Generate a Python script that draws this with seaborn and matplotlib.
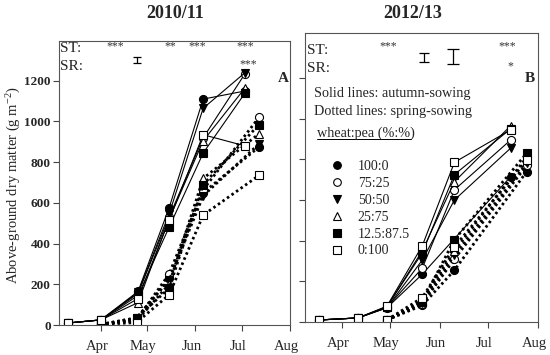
import matplotlib
matplotlib.use("Agg")
import matplotlib.pyplot as plt
import pandas as pd
import seaborn as sns
from matplotlib.lines import Line2D
from matplotlib.transforms import ScaledTranslation

W, H = 550, 355

MIXTURES = ["100:0", "75:25", "50:50", "25:75", "12.5:87.5", "0:100"]

# 2010/11 season
DATES_1011_AUTUMN = ["2011-03-11", "2011-04-01", "2011-04-25", "2011-05-15", "2011-06-06", "2011-07-03"]
DM_1011_AUTUMN = {
    "100:0": [10, 25, 165, 575, 1110, 1150],
    "75:25": [10, 25, 155, 530, 920, 1235],
    "50:50": [10, 25, 160, 545, 1065, 1240],
    "25:75": [10, 25, 110, 520, 905, 1165],
    "12.5:87.5": [10, 25, 145, 480, 845, 1140],
    "0:100": [10, 25, 130, 515, 935, 880],
}
DATES_1011_SPRING = ["2011-04-01", "2011-04-24", "2011-05-15", "2011-06-06", "2011-07-12"]
DM_1011_SPRING = {
    "100:0": [3, 30, 230, 650, 875],
    "75:25": [3, 25, 250, 665, 1020],
    "50:50": [3, 35, 220, 635, 890],
    "25:75": [3, 20, 200, 720, 940],
    "12.5:87.5": [3, 35, 180, 690, 985],
    "0:100": [3, 12, 148, 540, 735],
}

# 2012/13 season
DATES_1213_AUTUMN = ["2013-03-18", "2013-04-11", "2013-04-29", "2013-05-21", "2013-06-10", "2013-07-15"]
DM_1213_AUTUMN = {
    "100:0": [10, 20, 70, 235, None, 715],
    "75:25": [10, 20, 72, 265, 650, 895],
    "50:50": [10, 20, 70, 305, 600, 855],
    "25:75": [10, 20, 75, 350, 690, 965],
    "12.5:87.5": [10, 20, 75, 340, 725, 950],
    "0:100": [10, 20, 78, 375, 785, 945],
}
DATES_1213_SPRING = ["2013-04-29", "2013-05-21", "2013-06-10", "2013-07-25"]
DM_1213_SPRING = {
    "100:0": [10, 82, 255, 740],
    "75:25": [10, 90, 310, 770],
    "50:50": [10, 95, 330, 780],
    "25:75": [10, 105, 350, 810],
    "12.5:87.5": [10, 100, 405, 830],
    "0:100": [10, 120, 370, 795],
}

MONTH_LABELS = ["Apr", "May", "Jun", "Jul", "Aug"]
Y_TICKS = [0, 200, 400, 600, 800, 1000, 1200]

# marker shape / face colour per mixture
MARKER_STYLE = {
    "100:0": ("o", "black"),
    "75:25": ("o", "white"),
    "50:50": ("v", "black"),
    "25:75": ("^", "white"),
    "12.5:87.5": ("s", "black"),
    "0:100": ("s", "white"),
}

sns.set_style("ticks")
plt.rcParams["font.family"] = ["Liberation Serif", "DejaVu Serif"]
plt.rcParams["mathtext.fontset"] = "custom"
plt.rcParams["mathtext.rm"] = "Liberation Serif"
plt.rcParams["mathtext.it"] = "Liberation Serif:italic"


def fpos(x, y):
    return x / W, 1 - y / H


def _draw_series(ax, dates, values, mixture, sowing):
    df = pd.DataFrame({"date": pd.to_datetime(dates), "dm": values}).dropna()
    marker, face = MARKER_STYLE[mixture]
    if sowing == "autumn":
        ls, lw = "-", 0.8
    else:
        ls, lw = (0, (0.9, 1.1)), 2.0
    sns.lineplot(
        data=df, x="date", y="dm", ax=ax, color="black",
        linestyle=ls, linewidth=lw, marker=marker,
        markerfacecolor=face, markeredgecolor="black",
        markeredgewidth=0.8, markersize=5.8,
    )


def _style_axes(ax, year, xmin, ylim, show_ylabels):
    ax.set_xlim(pd.Timestamp(xmin), pd.Timestamp(f"{year}-08-01"))
    ax.set_ylim(*ylim)
    ticks = [pd.Timestamp(f"{year}-{m:02d}-01") for m in range(4, 9)]
    ax.set_xticks(ticks)
    ax.set_xticklabels(MONTH_LABELS, fontsize=10.5)
    ax.set_yticks(Y_TICKS)
    if show_ylabels:
        ax.set_yticklabels([str(v) for v in Y_TICKS], fontsize=9.5, fontweight="bold")
    else:
        ax.set_yticklabels([])
    ax.set_xlabel("")
    ax.set_ylabel("")
    ax.tick_params(direction="out", length=4, width=0.8, color="#444444")
    ax.tick_params(axis="x", pad=7)
    ax.tick_params(axis="y", pad=2)
    for spine in ax.spines.values():
        spine.set_visible(True)
        spine.set_linewidth(0.8)
        spine.set_color("#555555")
    offset = ScaledTranslation(-4 / 100, 0, ax.figure.dpi_scale_trans)
    for lab in ax.get_xticklabels():
        lab.set_transform(lab.get_transform() + offset)


fig = plt.figure(figsize=(W / 100, H / 100), dpi=100)
ax_a = fig.add_axes([59 / W, 1 - 325 / H, 231 / W, 284.3 / H])
ax_b = fig.add_axes([305 / W, 1 - 322 / H, 233 / W, 289 / H])

for mix in MIXTURES:
    _draw_series(ax_a, DATES_1011_SPRING, DM_1011_SPRING[mix], mix, "spring")
    _draw_series(ax_b, DATES_1213_SPRING, DM_1213_SPRING[mix], mix, "spring")
for mix in MIXTURES:
    _draw_series(ax_a, DATES_1011_AUTUMN, DM_1011_AUTUMN[mix], mix, "autumn")
    _draw_series(ax_b, DATES_1213_AUTUMN, DM_1213_AUTUMN[mix], mix, "autumn")

_style_axes(ax_a, 2011, "2011-03-05", (0, 1397), True)
_style_axes(ax_b, 2013, "2013-03-09", (0, 1421), False)

# significance error bars
ax_a.errorbar(pd.Timestamp("2011-04-24"), 1302, yerr=14, color="black", capsize=3, lw=0.9, capthick=0.9)
ax_b.errorbar(pd.Timestamp("2013-05-22"), 1301, yerr=22, color="black", capsize=3.5, lw=0.9, capthick=0.9)
ax_b.errorbar(pd.Timestamp("2013-06-09"), 1306, yerr=37, color="black", capsize=4, lw=0.9, capthick=0.9)

# titles and y label
fig.text(*fpos(175, 14), "2010/11", ha="center", va="center", fontsize=13, fontweight="bold")
fig.text(*fpos(413, 14), "2012/13", ha="center", va="center", fontsize=13, fontweight="bold")
fig.text(*fpos(14, 185), "Above-ground dry matter (g m$^{-2}$)", rotation=90,
         ha="center", va="center", fontsize=10.5)

# ST / SR annotations
star_kw = dict(ha="center", va="center", fontsize=8.5, color="#333333")
fig.text(*fpos(60, 48), "ST:", ha="left", va="center", fontsize=11)
fig.text(*fpos(60, 67), "SR:", ha="left", va="center", fontsize=11)
for x, s in [(115, "***"), (170, "**"), (197, "***"), (245, "***")]:
    fig.text(*fpos(x, 46), s, **star_kw)
fig.text(*fpos(248, 64), "***", **star_kw)
fig.text(*fpos(283, 79), "A", ha="center", va="center", fontsize=11, fontweight="bold")

fig.text(*fpos(307, 50), "ST:", ha="left", va="center", fontsize=11)
fig.text(*fpos(307, 69), "SR:", ha="left", va="center", fontsize=11)
fig.text(*fpos(388, 46), "***", **star_kw)
fig.text(*fpos(507, 46), "***", **star_kw)
fig.text(*fpos(510, 66), "*", **star_kw)
fig.text(*fpos(530, 79), "B", ha="center", va="center", fontsize=11, fontweight="bold")

# legend block
fig.text(*fpos(314, 94), "Solid lines: autumn-sowing", ha="left", va="center", fontsize=10.3)
fig.text(*fpos(314, 111), "Dotted lines: spring-sowing", ha="left", va="center", fontsize=10.3)
fig.text(*fpos(317, 133), "wheat:pea (%:%)", ha="left", va="center", fontsize=10.3)
fig.add_artist(Line2D([317 / W, 411 / W], [1 - 139.5 / H, 1 - 139.5 / H],
                      transform=fig.transFigure, color="black", lw=0.7))

handles = [
    Line2D([], [], linestyle="none", marker=MARKER_STYLE[m][0],
           markerfacecolor=MARKER_STYLE[m][1], markeredgecolor="black",
           markeredgewidth=0.8, markersize=5.5)
    for m in MIXTURES
]
ax_b.legend(
    handles, MIXTURES, loc="upper left", bbox_to_anchor=fpos(323, 153),
    bbox_transform=fig.transFigure, frameon=False, fontsize=10,
    handlelength=1.0, handletextpad=1.0, labelspacing=0.28, borderpad=0,
)

fig.savefig("out.png", dpi=100)
